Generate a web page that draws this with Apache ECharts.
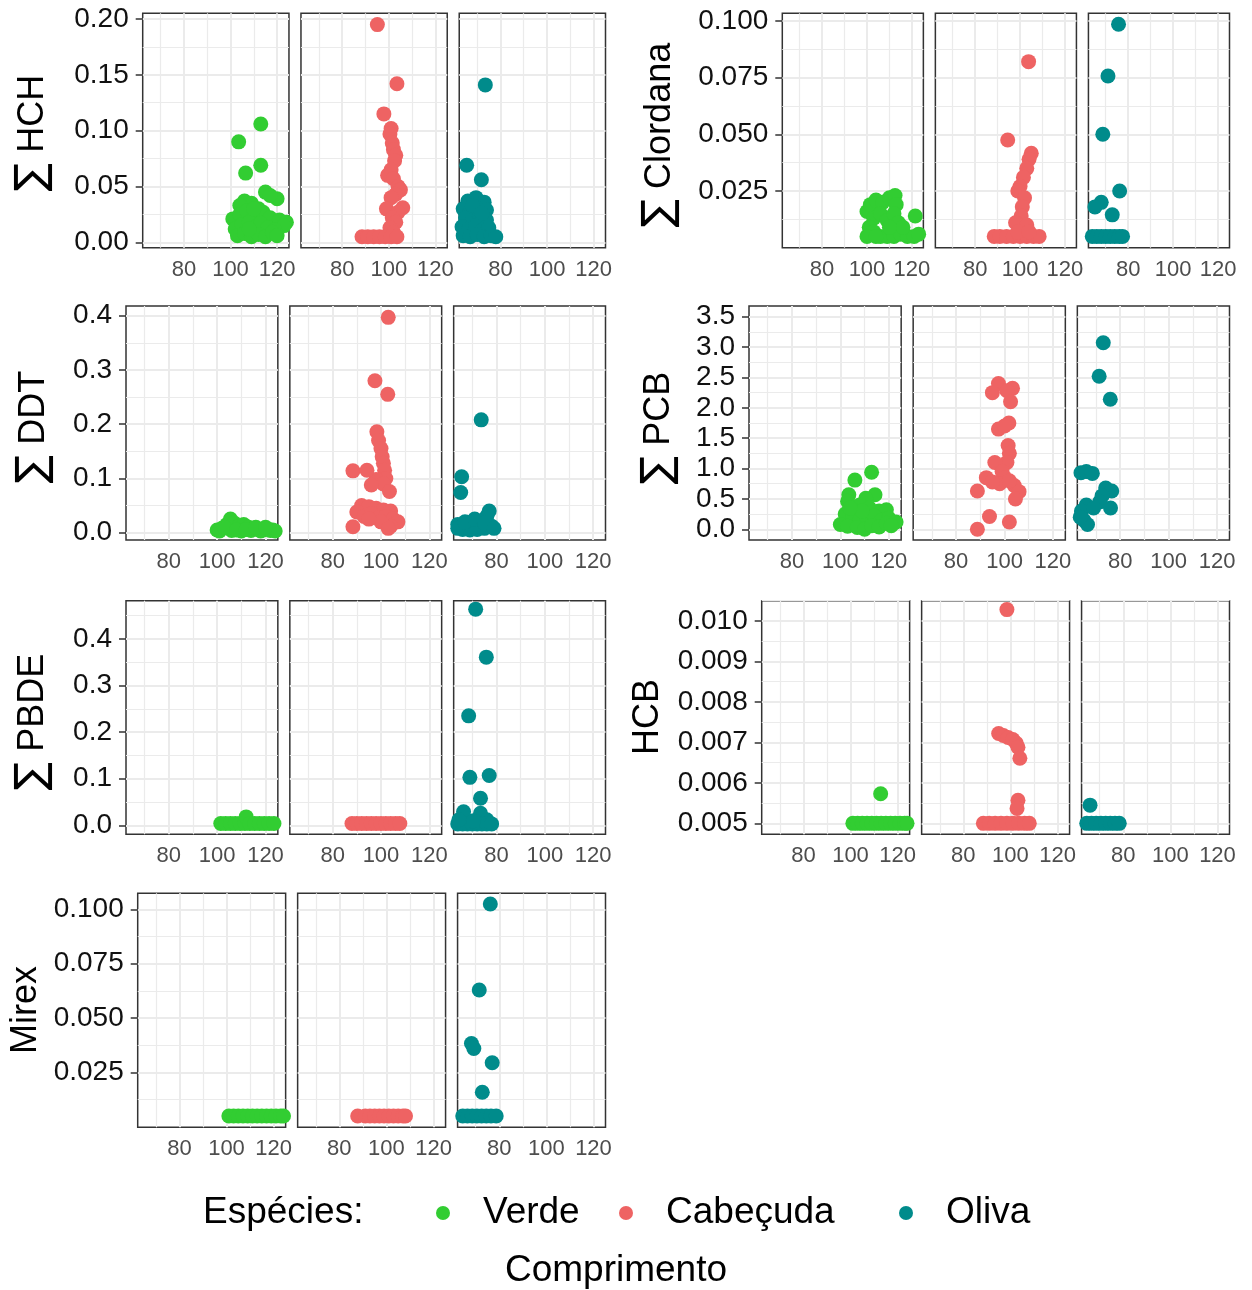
<!DOCTYPE html>
<html>
<head>
<meta charset="utf-8">
<script src="https://cdn.jsdelivr.net/npm/echarts@6/dist/echarts.min.js"></script>
<style>
  html, body { margin: 0; padding: 0; background: #ffffff; }
  #chart { width: 1252px; height: 1290px; }
</style>
</head>
<body>
<div id="chart"></div>
<script>
// Species (one facet panel each) and their colours
const species = ['Verde', 'Cabeçuda', 'Oliva'];
const speciesColors = ['#32CD32', '#EE6363', '#008B8B'];

// Shared x axis (Comprimento)
const xMajorTicks = [80, 100, 120];

// ---- ∑HCH ----
const hchTicks = [0, 0.05, 0.10, 0.15, 0.20];
const hchVerde = [[113,0.106],[103.5,0.090],[113,0.069],[106.5,0.062],[115,0.045],[120,0.039],[117,0.042],[106,0.037],[109,0.035],[104,0.033],[112,0.030],[101,0.021],[104,0.025],[107,0.028],[110,0.024],[114,0.027],[117,0.022],[121,0.020],[124,0.018],[123,0.015],[102,0.012],[105,0.016],[108,0.018],[111,0.014],[113,0.017],[116,0.013],[119,0.011],[103,0.006],[106,0.008],[109,0.005],[112,0.007],[115,0.005],[118,0.009],[120,0.006],[110,0.030],[108,0.012]];
const hchCabecuda = [[95.1,0.195],[103.5,0.142],[97.9,0.115],[101,0.102],[100.5,0.097],[101.5,0.089],[102,0.083],[103,0.078],[102.5,0.073],[101,0.065],[99.5,0.060],[102,0.057],[104,0.050],[105,0.047],[103,0.043],[101,0.040],[106,0.031],[99,0.030],[104,0.027],[101.5,0.022],[103,0.018],[100.5,0.013],[102,0.009],[88.5,0.005],[91,0.005],[93.5,0.005],[96,0.005],[98.5,0.005],[101,0.005],[103.5,0.005]];
const hchOliva = [[73.5,0.141],[65.5,0.069],[71.8,0.056],[66,0.037],[69.5,0.040],[73,0.036],[64,0.030],[67,0.028],[70,0.031],[74,0.029],[65,0.022],[68,0.019],[71,0.023],[74,0.020],[63.5,0.014],[66.5,0.012],[69.5,0.015],[72.5,0.011],[75,0.013],[64,0.006],[67,0.005],[70,0.007],[73,0.005],[76,0.006],[78,0.005],[68,0.033],[72,0.026]];

// ---- ∑Clordana ----
const clordanaTicks = [0.025, 0.050, 0.075, 0.100];
const clordanaVerde = [[100,0.016],[101.5,0.019],[104,0.021],[107,0.020],[110,0.022],[112.5,0.023],[113,0.019],[103,0.013],[106,0.015],[109,0.012],[112,0.015],[114,0.011],[121.5,0.014],[101,0.009],[103,0.007],[106,0.005],[109,0.005],[112,0.005],[115,0.006],[118,0.005],[121,0.005],[123,0.006],[100,0.005],[104,0.005],[116,0.009],[110,0.009]];
const clordanaCabecuda = [[103.8,0.082],[94.5,0.0475],[105,0.0416],[104,0.039],[103,0.035],[101.5,0.031],[100,0.027],[99,0.025],[102,0.022],[101,0.018],[100.5,0.014],[98,0.011],[103,0.010],[88.5,0.005],[91,0.005],[94,0.005],[97,0.005],[100,0.005],[103,0.005],[106,0.005],[108.5,0.005],[99,0.007],[104,0.007]];
const clordanaOliva = [[75.7,0.0985],[71,0.0757],[68.7,0.050],[76.2,0.025],[68,0.020],[65.2,0.018],[72.9,0.0145],[64,0.005],[66,0.005],[68,0.005],[70,0.005],[72,0.005],[74,0.005],[76,0.005],[77.5,0.005]];

// ---- ∑DDT ----
const ddtTicks = [0.0, 0.1, 0.2, 0.3, 0.4];
const ddtVerde = [[100,0.005],[102,0.008],[104,0.015],[105.5,0.025],[107,0.018],[109,0.012],[111,0.015],[113,0.010],[115,0.008],[117,0.006],[119,0.005],[121,0.007],[123,0.005],[101,0.003],[106,0.004],[110,0.003],[114,0.004],[118,0.003],[122,0.004],[124,0.003],[103,0.010],[108,0.005],[112,0.006],[116,0.010],[120,0.010]];
const ddtCabecuda = [[103,0.397],[97.5,0.280],[102.8,0.255],[98.3,0.186],[99,0.170],[100,0.155],[100.5,0.140],[101,0.128],[101.5,0.115],[102,0.100],[98,0.098],[101,0.090],[103.5,0.076],[88.4,0.114],[94.2,0.115],[96,0.088],[92,0.050],[95,0.048],[98,0.045],[101,0.042],[104,0.040],[90,0.038],[93,0.030],[96,0.035],[99,0.028],[102,0.030],[105,0.025],[107,0.020],[104,0.012],[100,0.020],[103,0.008],[88.4,0.011],[95,0.025]];
const ddtOliva = [[73.7,0.208],[65.6,0.103],[65.2,0.074],[64,0.015],[66,0.012],[68,0.018],[70,0.020],[72,0.017],[74,0.022],[76,0.030],[77,0.040],[78,0.012],[75,0.008],[72,0.006],[69,0.005],[66,0.006],[64,0.008],[70,0.012],[73,0.012],[67,0.020],[71,0.025],[75,0.018],[79,0.008]];

// ---- ∑PCB ----
const pcbTicks = [0.0, 0.5, 1.0, 1.5, 2.0, 2.5, 3.0, 3.5];
const pcbVerde = [[112.9,0.94],[106,0.81],[103.5,0.57],[103,0.46],[114.3,0.57],[110.5,0.51],[108,0.40],[112,0.35],[116,0.30],[119,0.32],[106,0.30],[102,0.25],[105,0.18],[108,0.15],[111,0.20],[114,0.22],[117,0.15],[120,0.18],[123,0.12],[100,0.08],[103,0.05],[107,0.03],[110,0.00],[113,0.06],[116,0.04],[119,0.10],[121,0.06],[109,0.30],[104,0.35]];
const pcbCabecuda = [[97.5,2.40],[95,2.25],[103.3,2.32],[101,2.28],[102.5,2.10],[101.8,1.75],[97.5,1.65],[100,1.70],[101.5,1.38],[102,1.25],[101,1.10],[96,1.10],[99,0.95],[92.5,0.85],[100,0.85],[104,0.72],[106,0.62],[104.5,0.50],[98,0.75],[95,0.78],[102,0.80],[88.8,0.63],[93.8,0.21],[88.8,0.00],[102,0.12]];
const pcbOliva = [[73,3.07],[71.3,2.52],[75.9,2.14],[63.8,0.93],[66,0.95],[68.5,0.92],[74,0.68],[76.5,0.63],[72.5,0.55],[71.5,0.45],[76,0.35],[66,0.40],[64,0.30],[65,0.15],[66.5,0.08],[69,0.35],[63.5,0.20]];

// ---- ∑PBDE ----
const pbdeTicks = [0.0, 0.1, 0.2, 0.3, 0.4];
const pbdeVerde = [[101.5,0.004],[103.5,0.004],[105.5,0.004],[107.5,0.004],[109.5,0.004],[111.5,0.004],[112,0.018],[113.5,0.004],[115.5,0.004],[117.5,0.004],[119.5,0.004],[121.5,0.004],[123.5,0.004]];
const pbdeCabecuda = [[88,0.004],[90,0.004],[92,0.004],[94,0.004],[96,0.004],[98,0.004],[100,0.004],[102,0.004],[104,0.004],[106,0.004],[107.8,0.004]];
const pbdeOliva = [[71.4,0.464],[75.8,0.361],[68.5,0.235],[69,0.103],[77,0.107],[73.4,0.058],[66.4,0.029],[73.4,0.026],[76,0.012],[64,0.003],[66,0.003],[68,0.003],[70,0.003],[72,0.003],[74,0.003],[76,0.003],[78,0.003],[64.5,0.012],[70.5,0.010]];

// ---- HCB ----
const hcbTicks = [0.005, 0.006, 0.007, 0.008, 0.009, 0.010];
const hcbVerde = [[112.8,0.00573],[101,0.005],[103,0.005],[105,0.005],[107,0.005],[109,0.005],[111,0.005],[113,0.005],[115,0.005],[117,0.005],[119,0.005],[121,0.005],[123,0.005],[124,0.005]];
const hcbCabecuda = [[98.5,0.01028],[95,0.00722],[97,0.00717],[99,0.00712],[101,0.00707],[102.5,0.00698],[103.2,0.00688],[104,0.00661],[103.2,0.00557],[102.8,0.00537],[88.5,0.005],[91,0.005],[93.5,0.005],[96,0.005],[98.5,0.005],[101,0.005],[103.5,0.005],[106,0.005],[108,0.005]];
const hcbOliva = [[65.9,0.00545],[64.5,0.005],[66.5,0.005],[68.5,0.005],[70.5,0.005],[72.5,0.005],[74.5,0.005],[76.5,0.005],[78.3,0.005]];

// ---- Mirex ----
const mirexTicks = [0.025, 0.050, 0.075, 0.100];
const mirexVerde = [[101,0.0049],[103,0.0049],[105,0.0049],[107,0.0049],[109,0.0049],[111,0.0049],[113,0.0049],[115,0.0049],[117,0.0049],[119,0.0049],[121,0.0049],[123,0.0049],[124.2,0.0049]];
const mirexCabecuda = [[87.8,0.0049],[91,0.0049],[93,0.0049],[95,0.0049],[97,0.0049],[99,0.0049],[101,0.0049],[103,0.0049],[105,0.0049],[107,0.0049],[108.1,0.0049]];
const mirexOliva = [[76.2,0.1025],[71.5,0.0629],[68.2,0.0383],[69.2,0.0360],[77,0.0294],[72.8,0.0158],[64.5,0.0049],[66.5,0.0049],[68.5,0.0049],[70.5,0.0049],[72.5,0.0049],[74.5,0.0049],[76.5,0.0049],[78.7,0.0049]];

// ---------------------------------------------------------------------------
// Facet groups: label, tick values, label decimals and the three species sets
const groups = [
  { name: 'HCH',      sigma: true,  ticks: hchTicks,      decimals: 2, sets: [hchVerde, hchCabecuda, hchOliva] },
  { name: 'Clordana', sigma: true,  ticks: clordanaTicks, decimals: 3, sets: [clordanaVerde, clordanaCabecuda, clordanaOliva] },
  { name: 'DDT',      sigma: true,  ticks: ddtTicks,      decimals: 1, sets: [ddtVerde, ddtCabecuda, ddtOliva] },
  { name: 'PCB',      sigma: true,  ticks: pcbTicks,      decimals: 1, sets: [pcbVerde, pcbCabecuda, pcbOliva] },
  { name: 'PBDE',     sigma: true,  ticks: pbdeTicks,     decimals: 1, sets: [pbdeVerde, pbdeCabecuda, pbdeOliva] },
  { name: 'HCB',      sigma: false, ticks: hcbTicks,      decimals: 3, sets: [hcbVerde, hcbCabecuda, hcbOliva] },
  { name: 'Mirex',    sigma: false, ticks: mirexTicks,    decimals: 3, sets: [mirexVerde, mirexCabecuda, mirexOliva] }
];

// Page layout of each facet group (pixel box and y range)
const layout = [
  { left: 142.7, right: 605.5, top: 13.3,  bottom: 247.7,  yMin: -0.0048, yMax: 0.2051, titleX: 33,  titleY: 133 },
  { left: 782.3, right: 1229.5, top: 13.3, bottom: 247.7,  yMin: 0.00003, yMax: 0.1033, titleX: 660, titleY: 135 },
  { left: 126,   right: 605.5, top: 306,   bottom: 540,    yMin: -0.0135, yMax: 0.4179, titleX: 34,  titleY: 427 },
  { left: 749,   right: 1229.5, top: 306,  bottom: 540,    yMin: -0.176,  yMax: 3.676,  titleX: 659, titleY: 428 },
  { left: 126,   right: 605.5, top: 600.7, bottom: 834.3,  yMin: -0.0193, yMax: 0.4822, titleX: 33,  titleY: 722 },
  { left: 761.7, right: 1229.5, top: 600.7, bottom: 834.3, yMin: 0.00473, yMax: 0.0105, titleX: 648, titleY: 717 },
  { left: 137.7, right: 605.5, top: 893.3, bottom: 1127.3, yMin: -0.0003, yMax: 0.1074, titleX: 26,  titleY: 1010 }
];

const X_MIN = 62.3, X_MAX = 125.1;
const GAP = 12;
const FONT = "'Liberation Sans', Arial, sans-serif";
const GRID_COLOR = '#EBEBEB';

// minor breaks sit halfway between the major breaks (and one step beyond each end)
function minorBreaks(major, lo, hi) {
  const step = major[1] - major[0];
  const out = [];
  for (let i = -1; i < major.length; i++) {
    const v = major[0] + (i + 0.5) * step;
    if (v > lo && v < hi) out.push(+v.toFixed(6));
  }
  return out;
}

const grids = [], xAxes = [], yAxes = [], series = [], graphics = [];

groups.forEach((g, gi) => {
  const L = layout[gi];
  const w = (L.right - L.left - 2 * GAP) / 3;
  const yMinor = minorBreaks(g.ticks, L.yMin, L.yMax);
  const xMinor = minorBreaks(xMajorTicks, X_MIN, X_MAX);

  for (let p = 0; p < 3; p++) {
    const gridIndex = grids.length;
    grids.push({
      left: L.left + p * (w + GAP), top: L.top, width: w, height: L.bottom - L.top,
      show: true, backgroundColor: '#ffffff', borderColor: '#333333', borderWidth: 1.5, z: 0
    });
    // major x breaks with labels
    const xa = xAxes.length;
    xAxes.push({
      type: 'value', gridIndex, min: X_MIN, max: X_MAX, position: 'bottom',
      axisLine: { show: false },
      axisTick: { show: false, customValues: xMajorTicks },
      axisLabel: { customValues: xMajorTicks, fontSize: 22, color: '#4D4D4D', margin: 11, fontFamily: FONT },
      splitLine: { show: true, lineStyle: { color: GRID_COLOR, width: 2 } }
    });
    // minor x breaks (grid lines only)
    xAxes.push({
      type: 'value', gridIndex, min: X_MIN, max: X_MAX, position: 'top',
      axisLine: { show: false }, axisLabel: { show: false },
      axisTick: { show: false, customValues: xMinor },
      splitLine: { show: true, lineStyle: { color: GRID_COLOR, width: 1.2 } }
    });
    // major y breaks: ticks and labels on the first panel only
    const ya = yAxes.length;
    yAxes.push({
      type: 'value', gridIndex, min: L.yMin, max: L.yMax, position: 'left',
      axisLine: { show: false },
      axisTick: { show: p === 0, customValues: g.ticks, length: 7, lineStyle: { color: '#333333', width: 1.5 } },
      axisLabel: {
        show: p === 0, customValues: g.ticks, fontSize: 28, color: '#111111', margin: 14, fontFamily: FONT,
        formatter: (v) => Number(v).toFixed(g.decimals)
      },
      splitLine: { show: true, lineStyle: { color: GRID_COLOR, width: 2 } }
    });
    // minor y breaks
    yAxes.push({
      type: 'value', gridIndex, min: L.yMin, max: L.yMax, position: 'right',
      axisLine: { show: false }, axisLabel: { show: false },
      axisTick: { show: false, customValues: yMinor },
      splitLine: { show: true, lineStyle: { color: GRID_COLOR, width: 1.2 } }
    });

    series.push({
      type: 'scatter', name: species[p], xAxisIndex: xa, yAxisIndex: ya,
      data: g.sets[p], symbol: 'circle', symbolSize: 15,
      itemStyle: { color: speciesColors[p], opacity: 1 },
      emphasis: { disabled: true }, clip: true, z: 3
    });
  }

  // y axis title, rotated
  graphics.push({
    type: 'text', x: L.titleX, y: L.titleY, rotation: Math.PI / 2,
    style: {
      text: g.sigma ? '{s|∑} {t|' + g.name + '}' : '{t|' + g.name + '}',
      align: 'center', verticalAlign: 'middle', textAlign: 'center', textVerticalAlign: 'middle',
      font: '36px ' + FONT, fill: '#000000',
      rich: {
        s: { fontSize: 42, fontFamily: "'DejaVu Sans', sans-serif", fill: '#000000' },
        t: { fontSize: 36, fontFamily: FONT, fill: '#000000' }
      }
    }
  });
});

// legend title and shared x title
graphics.push({
  type: 'text', x: 203, y: 1213,
  style: { text: 'Espécies:', font: '37px ' + FONT, fill: '#000000', align: 'left', verticalAlign: 'middle', textAlign: 'left', textVerticalAlign: 'middle' }
});
graphics.push({
  type: 'text', x: 616, y: 1271,
  style: { text: 'Comprimento', font: '37px ' + FONT, fill: '#000000', align: 'center', verticalAlign: 'middle', textAlign: 'center', textVerticalAlign: 'middle' }
});

// one legend entry per species
const legendDotCenters = [443, 626, 906];
const legends = species.map((s, i) => ({
  data: [{ name: s, icon: 'circle' }],
  left: legendDotCenters[i] - 7, top: 1193, padding: 0,
  itemWidth: 14, itemHeight: 14, selectedMode: false,
  textStyle: { fontSize: 37, fontFamily: FONT, color: '#000000', lineHeight: 40, padding: [0, 0, 0, 28] }
}));

const chart = echarts.init(document.getElementById('chart'), null, { renderer: 'canvas' });
chart.setOption({
  backgroundColor: '#ffffff',
  animation: false,
  color: speciesColors,
  grid: grids,
  xAxis: xAxes,
  yAxis: yAxes,
  legend: legends,
  graphic: graphics,
  series: series
});
</script>
</body>
</html>
